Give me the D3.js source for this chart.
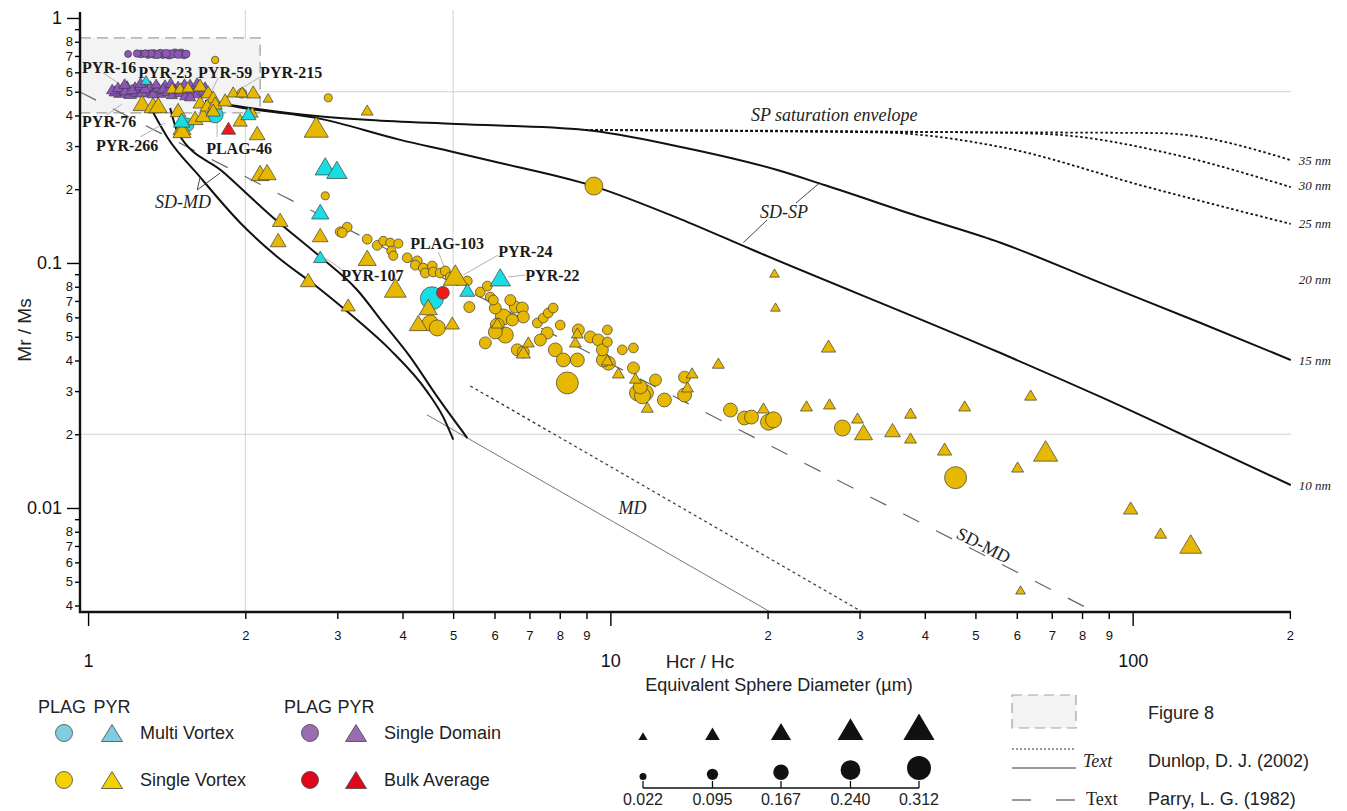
<!DOCTYPE html>
<html><head><meta charset="utf-8">
<script src="https://cdn.jsdelivr.net/npm/d3@7"></script>
<style>
body{margin:0;background:#fff;}
svg{display:block;font-family:"Liberation Sans",Arial,sans-serif;}
</style></head><body>
<svg id="chart" width="1347" height="811"></svg>
<script>
// ---------------- DATA: [Hcr/Hc, Mr/Ms, ESD (µm)] ----------------
const plagMV = [[1.546,0.366,0.14],[1.751,0.402,0.176],[4.554,0.0718,0.295]];
const pyrMV = [[1.291,0.558,0.04],[1.511,0.383,0.12],[2.028,0.408,0.10],[2.845,0.248,0.17],[2.995,0.240,0.17],
  [2.783,0.162,0.13],[2.783,0.106,0.08],[5.322,0.0776,0.10],[6.155,0.0874,0.17]];
const plagSV = [[1.751,0.674,0.03],[1.970,0.493,0.07],[2.883,0.472,0.04],[2.845,0.188,0.04],[9.30,0.206,0.21],
  [3.039,0.134,0.07],[3.134,0.140,0.07],[3.066,0.133,0.07],[3.423,0.125,0.07],[3.578,0.118,0.07],[3.674,0.123,0.06],
  [3.790,0.121,0.06],[3.926,0.120,0.06],[3.807,0.112,0.06],[3.840,0.107,0.06],[4.084,0.105,0.07],[4.269,0.102,0.07],
  [4.231,0.098,0.07],[4.383,0.0954,0.07],[4.560,0.0972,0.07],[4.421,0.0910,0.07],[4.580,0.0919,0.07],[4.723,0.0910,0.07],
  [4.830,0.0928,0.07],[4.937,0.0877,0.07],[5.092,0.0869,0.07],[5.322,0.0844,0.07],[5.369,0.0661,0.09],[4.520,0.0569,0.176],
  [4.662,0.0543,0.176],[5.636,0.0761,0.07],[5.813,0.0805,0.07],[5.890,0.0726,0.07],[5.969,0.0706,0.07],[6.021,0.0655,0.107],
  [6.237,0.0602,0.176],[6.433,0.0706,0.09],[6.577,0.0661,0.107],[6.784,0.0655,0.107],[6.814,0.0602,0.107],[6.490,0.0585,0.107],
  [6.074,0.0558,0.14],[6.293,0.0508,0.176],[6.021,0.0523,0.14],[5.762,0.0472,0.107],[6.634,0.0442,0.107],[6.814,0.0433,0.107],
  [7.247,0.0569,0.07],[7.440,0.0596,0.07],[7.604,0.0625,0.07],[7.774,0.0655,0.07],[8.017,0.0558,0.07],[7.570,0.0518,0.107],
  [7.343,0.0485,0.107],[7.843,0.0442,0.14],[8.128,0.0402,0.14],[8.646,0.0402,0.14],[8.272,0.0324,0.278],[8.684,0.0533,0.107],
  [9.156,0.0499,0.107],[9.485,0.0485,0.107],[9.869,0.0533,0.07],[9.869,0.0476,0.07],[9.654,0.0442,0.107],[9.913,0.0390,0.14],
  [9.696,0.0402,0.14],[10.54,0.0442,0.07],[11.07,0.0450,0.07],[11.07,0.0373,0.107],[11.41,0.0312,0.14],[11.27,0.0295,0.176],
  [11.67,0.0295,0.176],[11.52,0.0287,0.176],[12.20,0.0333,0.107],[12.69,0.0276,0.14],[13.87,0.0342,0.107],[13.87,0.0289,0.14],
  [16.98,0.0251,0.14],[18.06,0.0233,0.14],[18.63,0.0235,0.14],[20.08,0.0224,0.176],[20.53,0.0229,0.176],[27.82,0.0212,0.176],
  [45.81,0.0133,0.278]];
const pyrSV = [[1.269,0.450,0.14],[1.332,0.441,0.14],[1.362,0.441,0.14],[1.448,0.518,0.06],[1.500,0.518,0.06],[1.554,0.523,0.06],
  [1.639,0.533,0.09],[1.698,0.499,0.09],[1.736,0.476,0.09],[1.639,0.454,0.09],[1.690,0.441,0.09],[1.751,0.450,0.09],[1.830,0.463,0.09],
  [1.487,0.421,0.11],[1.603,0.391,0.11],[1.661,0.402,0.11],[1.736,0.421,0.09],[1.896,0.499,0.06],[1.972,0.499,0.06],[2.071,0.499,0.09],
  [2.212,0.472,0.035],[1.955,0.383,0.09],[2.062,0.413,0.06],[2.108,0.339,0.11],[1.513,0.359,0.14],[1.513,0.349,0.14],[2.135,0.233,0.14],
  [2.202,0.235,0.14],[2.734,0.359,0.22],[3.423,0.421,0.06],[2.332,0.150,0.11],[2.312,0.124,0.11],[2.783,0.130,0.11],[2.639,0.0852,0.11],
  [3.148,0.0674,0.09],[3.423,0.105,0.14],[3.874,0.0791,0.19],[5.047,0.0893,0.22],[4.480,0.0661,0.14],[4.288,0.0569,0.14],
  [4.981,0.0569,0.09],[6.074,0.0569,0.06],[6.966,0.0476,0.06],[6.814,0.0433,0.09],[8.646,0.0518,0.06],[8.570,0.0476,0.06],
  [9.869,0.0402,0.06],[10.36,0.0356,0.06],[11.17,0.0339,0.06],[11.77,0.0258,0.06],[14.34,0.0356,0.06],[14.05,0.0312,0.06],
  [16.10,0.0390,0.06],[19.64,0.0256,0.06],[20.62,0.0910,0.03],[20.71,0.0661,0.03],[26.16,0.0458,0.09],[23.74,0.0261,0.06],
  [26.28,0.0266,0.06],[29.73,0.0233,0.06],[30.53,0.0204,0.14],[34.69,0.0208,0.11],[37.56,0.0244,0.06],[37.56,0.0193,0.06],
  [43.64,0.0174,0.09],[47.68,0.0261,0.06],[63.77,0.0289,0.06],[60.22,0.0147,0.06],[68.14,0.0171,0.22],[99.13,0.0100,0.09],
  [113.1,0.0079,0.06],[129.2,0.00713,0.19],[61.0,0.00463,0.03]];
const plagSD = [[1.193,0.713,0.022],[1.241,0.716,0.03],[1.263,0.713,0.035],[1.286,0.716,0.03],[1.303,0.711,0.045],[1.320,0.716,0.035],
  [1.338,0.713,0.05],[1.356,0.709,0.04],[1.374,0.716,0.045],[1.392,0.711,0.05],[1.411,0.716,0.04],[1.429,0.709,0.055],[1.448,0.713,0.045],
  [1.468,0.718,0.05],[1.487,0.711,0.04],[1.507,0.716,0.055],[1.527,0.709,0.045],[1.541,0.713,0.035]];
const pyrSD = [[1.112,0.513,0.05],[1.126,0.504,0.06],[1.141,0.523,0.05],[1.152,0.499,0.07],[1.162,0.518,0.06],[1.177,0.508,0.05],
  [1.188,0.528,0.06],[1.204,0.494,0.07],[1.214,0.513,0.05],[1.230,0.523,0.06],[1.241,0.504,0.07],[1.258,0.533,0.05],[1.269,0.499,0.06],
  [1.286,0.518,0.05],[1.303,0.508,0.07],[1.315,0.528,0.06],[1.332,0.494,0.05],[1.344,0.513,0.06],[1.362,0.523,0.05],[1.374,0.499,0.07],
  [1.390,0.518,0.05],[1.404,0.533,0.06],[1.420,0.504,0.05],[1.436,0.523,0.06],[1.448,0.490,0.05],[1.468,0.513,0.06],[1.487,0.528,0.05],
  [1.500,0.499,0.05],[1.513,0.518,0.06],[1.534,0.485,0.05],[1.547,0.513,0.06],[1.568,0.538,0.05],[1.603,0.513,0.06],[1.618,0.494,0.05],
  [1.639,0.533,0.06],[1.661,0.508,0.05],[1.675,0.523,0.06],[1.698,0.499,0.05],[1.618,0.548,0.04],[1.568,0.480,0.05],[1.175,0.540,0.05],
  [1.260,0.545,0.05],[1.350,0.540,0.04],[1.440,0.545,0.05],[1.530,0.540,0.05]];
const plagBulk = [[4.78,0.0756,0.12]];
const pyrBulk = [[1.857,0.355,0.09]];

// reference curves [Hcr/Hc, Mr/Ms]
const sdmdCurveA = [[1.315,0.433],[1.417,0.327],[1.639,0.224],[1.955,0.146],[2.302,0.106],[2.746,0.0798],[3.276,0.0585],[3.790,0.0442],[4.462,0.0298],[4.787,0.0235],[5.003,0.0190]];
const sdmdCurveB = [[1.436,0.429],[1.487,0.339],[1.814,0.235],[2.262,0.153],[2.783,0.106],[3.276,0.0776],[3.674,0.0569],[4.140,0.0413],[4.664,0.0284],[5.323,0.0193]];
const sdsp15 = [[1.675,0.4585],[2.043,0.429],[2.734,0.398],[3.469,0.383],[5.070,0.369],[8.956,0.349],[13.65,0.2975],[20.80,0.240],[25.70,0.208],[39.26,0.154],[55.86,0.121],[86.85,0.0829],[135.0,0.0569],[200.8,0.0402]];
const sdsp10 = [[1.675,0.4585],[2.043,0.425],[2.734,0.391],[3.961,0.318],[5.003,0.284],[6.155,0.256],[9.277,0.206],[13.62,0.151],[18.55,0.114],[55.86,0.0429],[86.85,0.0284],[135.0,0.0184],[200.8,0.0124]];
const env35 = [[8.956,0.349],[30,0.343],[111.6,0.339],[200.8,0.263]];
const env30 = [[8.956,0.349],[55.86,0.340],[72.8,0.333],[116.7,0.281],[200.8,0.204]];
const env25 = [[8.956,0.349],[32.9,0.341],[55.86,0.2975],[106.8,0.204],[200.8,0.1443]];
const parrySDMD = [[0.965,0.499],[83.1,0.00384]];
const parryMD = [[4.456,0.0240],[20.25,0.003763]];
const dunlopMD = [[5.393,0.0315],[30.39,0.003763]];
const fig8Box = [0.965, 2.135, 0.4095, 0.829];

// annotations
const sampleLabels = [["PYR-16",0.974,0.631],["PYR-23",1.247,0.602],["PYR-59",1.624,0.602],["PYR-215",2.135,0.602],
  ["PYR-76",0.974,0.380],["PYR-266",1.036,0.303],["PLAG-46",1.683,0.2946],["PLAG-103",4.14,0.1207],
  ["PYR-24",6.10,0.1119],["PYR-107",3.053,0.0893],["PYR-22",6.874,0.0893]];
const sampleLeaders = [[1.766,0.327,1.766,0.394],[4.683,0.111,4.83,0.0937],[6.10,0.1078,5.228,0.0893],[3.066,0.0937,2.845,0.1048],
  [6.874,0.0893,6.376,0.0877],[1.774,0.569,1.728,0.508],[2.135,0.574,1.972,0.518],[1.068,0.597,1.141,0.543],
  [1.087,0.402,1.162,0.446],[1.258,0.327,1.404,0.373]];
const curveLabels = [["SP saturation envelope",26.83,0.4018],["SD-SP",21.5,0.162],["SD-MD",1.52,0.1774],["MD",11.02,0.0100]];
const curveLeaders = [[1.618,0.1986,1.639,0.2244],[1.618,0.1986,1.79,0.233],[25.14,0.212,22.67,0.1757],[17.97,0.121,19.96,0.1498]];
const nmLabels = [["35 nm",0.2609],["30 nm",0.2082],["25 nm",0.1455],["20 nm",0.0860],["15 nm",0.0402],["10 nm",0.01241]];
const parryLabel = ["SD-MD",51.85,0.00706];

// axes ticks
const xMajorTicks = [1,10,100], xMajorLabels = ["1","10","100"];
const xMinorTicks = [2,3,4,5,6,7,8,9,20,30,40,50,60,70,80,90,200];
const xMinorLabels = ["2","3","4","5","6","7","8","9","2","3","4","5","6","7","8","9","2"];
const yMajorTicks = [1,0.1,0.01], yMajorLabels = ["1","0.1","0.01"];
const yMinorTicks = [0.9,0.8,0.7,0.6,0.5,0.4,0.3,0.2,0.09,0.08,0.07,0.06,0.05,0.04,0.03,0.02,0.009,0.008,0.007,0.006,0.005,0.004];
const yMinorLabels = ["","8","7","6","5","4","3","2","","8","7","6","5","4","3","2","","8","7","6","5","4"];
const xGrid = [2,5], yGrid = [0.5,0.02];
const sizeKey = [0.022,0.095,0.167,0.240,0.312], sizeKeyLabels = ["0.022","0.095","0.167","0.240","0.312"];

// ---------------- DRAW ----------------
const svg = d3.select("#chart");
const x = d3.scaleLog().domain([0.965, 201]).range([80, 1291]);
const y = d3.scaleLog().domain([0.003763, 1.038]).range([612, 14]);
const rS = d3.scaleLinear().domain([0.022, 0.312]).range([3.5, 12]);
const COL = {mv:"#19dde3", sv:"#e6b800", sd:"#8c56bb", bulk:"#ee1b1b"};
const LCOL = {mv:"#80cde0", sv:"#f4d000", sd:"#9a6db3", bulk:"#e2061c"};
const SERIF = '"Liberation Serif","Times New Roman",serif';
const triPath = (w,h)=>`M0,${-h/2}L${w/2},${h/2}L${-w/2},${h/2}Z`;

svg.append("defs").append("clipPath").attr("id","plotclip").append("rect")
  .attr("x",80).attr("y",14).attr("width",1211).attr("height",598);

// grid
const gGrid = svg.append("g").attr("stroke","#d2d2d2").attr("stroke-width",1);
xGrid.forEach(v=>gGrid.append("line").attr("x1",x(v)).attr("x2",x(v)).attr("y1",y.range()[1]-4).attr("y2",y.range()[0]));
yGrid.forEach(v=>gGrid.append("line").attr("x1",x.range()[0]).attr("x2",x.range()[1]).attr("y1",y(v)).attr("y2",y(v)));

// figure 8 box
svg.append("rect").attr("x",x(fig8Box[0])).attr("y",y(fig8Box[3]))
  .attr("width",x(fig8Box[1])-x(fig8Box[0])).attr("height",y(fig8Box[2])-y(fig8Box[3]))
  .attr("fill","#f3f3f3").attr("stroke","#a0a0a0").attr("stroke-width",1.3).attr("stroke-dasharray","11,6");

const gl = svg.append("g").attr("clip-path","url(#plotclip)").attr("fill","none");
const line = d3.line().x(d=>x(d[0])).y(d=>y(d[1]));
const cline = d3.line().x(d=>x(d[0])).y(d=>y(d[1])).curve(d3.curveMonotoneX);
gl.append("path").attr("d",line(parrySDMD)).attr("stroke","#666").attr("stroke-width",1.2).attr("stroke-dasharray","18,19");
gl.append("path").attr("d",line(parryMD)).attr("stroke","#777").attr("stroke-width",1);
gl.append("path").attr("d",line(dunlopMD)).attr("stroke","#333").attr("stroke-width",1.2).attr("stroke-dasharray","3,3");
[env35,env30,env25].forEach(c=>gl.append("path").attr("d",cline(c)).attr("stroke","#111").attr("stroke-width",1.8).attr("stroke-dasharray","2.5,2.5"));
[sdsp15,sdsp10,sdmdCurveA,sdmdCurveB].forEach(c=>gl.append("path").attr("d",cline(c)).attr("stroke","#111").attr("stroke-width",2));

// leaders
const gLead = svg.append("g");
sampleLeaders.forEach(d=>gLead.append("line").attr("x1",x(d[0])).attr("y1",y(d[1])).attr("x2",x(d[2])).attr("y2",y(d[3])).attr("stroke","#aaa").attr("stroke-width",0.9));
curveLeaders.forEach(d=>gLead.append("line").attr("x1",x(d[0])).attr("y1",y(d[1])).attr("x2",x(d[2])).attr("y2",y(d[3])).attr("stroke","#333").attr("stroke-width",0.9));

// points
const gp = svg.append("g");
function circles(data, fill){
  gp.append("g").selectAll("circle").data(data.slice().sort((a,b)=>b[2]-a[2])).join("circle")
    .attr("cx",d=>x(d[0])).attr("cy",d=>y(d[1])).attr("r",d=>rS(d[2]))
    .attr("fill",fill).attr("stroke","#3c3c3c").attr("stroke-width",0.7);
}
function tris(data, fill){
  gp.append("g").selectAll("path").data(data.slice().sort((a,b)=>b[2]-a[2])).join("path")
    .attr("transform",d=>`translate(${x(d[0])},${y(d[1])})`)
    .attr("d",d=>triPath(2.6*rS(d[2]),2.2*rS(d[2])))
    .attr("fill",fill).attr("stroke","#3c3c3c").attr("stroke-width",0.7);
}
circles(plagMV, COL.mv);
tris(pyrSD, COL.sd);
circles(plagSD, COL.sd);
circles(plagSV, COL.sv);
tris(pyrSV, COL.sv);
tris(pyrMV, COL.mv);
circles(plagBulk, COL.bulk);
tris(pyrBulk, COL.bulk);

// labels
const gt = svg.append("g");
sampleLabels.forEach(d=>gt.append("text").attr("x",x(d[1])).attr("y",y(d[2])).attr("dy","0.35em")
  .attr("font-family",SERIF).attr("font-weight","bold").attr("font-size",16).attr("fill","#1a1a1a").text(d[0]));
curveLabels.forEach(d=>gt.append("text").attr("x",x(d[1])).attr("y",y(d[2])).attr("dy","0.35em").attr("text-anchor","middle")
  .attr("font-family",SERIF).attr("font-style","italic").attr("font-size",18).attr("fill","#222").text(d[0]));
nmLabels.forEach(d=>gt.append("text").attr("x",x(208)).attr("y",y(d[1])).attr("dy","0.35em")
  .attr("font-family",SERIF).attr("font-style","italic").attr("font-size",13).attr("fill","#222").text(d[0]));
{
  const ang = Math.atan2(y(parrySDMD[1][1])-y(parrySDMD[0][1]), x(parrySDMD[1][0])-x(parrySDMD[0][0]))*180/Math.PI;
  const px = x(parryLabel[1]), py = y(parryLabel[2]);
  gt.append("text").attr("transform",`translate(${px},${py}) rotate(${ang})`).attr("text-anchor","middle").attr("dy","0.35em")
    .attr("font-family",SERIF).attr("font-size",18).attr("fill","#222").text(parryLabel[0]);
}

// axes
function styleAxis(g, fs){ g.attr("font-size",fs).attr("font-family",'"Liberation Sans",Arial,sans-serif');
  g.selectAll(".tick line").attr("stroke-width",1.4); g.selectAll("text").attr("fill","#111"); g.select(".domain").remove(); }
const gxm = svg.append("g").attr("transform","translate(0,612)")
  .call(d3.axisBottom(x).tickValues(xMinorTicks).tickFormat((d,i)=>xMinorLabels[i]).tickSize(7).tickPadding(12));
styleAxis(gxm, 13);
const gxM = svg.append("g").attr("transform","translate(0,612)")
  .call(d3.axisBottom(x).tickValues(xMajorTicks).tickFormat((d,i)=>xMajorLabels[i]).tickSize(14).tickPadding(28));
styleAxis(gxM, 18);
const gym = svg.append("g").attr("transform","translate(80,0)")
  .call(d3.axisLeft(y).tickValues(yMinorTicks).tickFormat((d,i)=>yMinorLabels[i]).tickSize(5).tickPadding(2));
styleAxis(gym, 13);
const gyM = svg.append("g").attr("transform","translate(80,0)")
  .call(d3.axisLeft(y).tickValues(yMajorTicks).tickFormat((d,i)=>yMajorLabels[i]).tickSize(13).tickPadding(5));
styleAxis(gyM, 18);
svg.append("path").attr("d",`M80,${y.range()[1]-2}V612H${x.range()[1]}`).attr("fill","none").attr("stroke","#111").attr("stroke-width",2.4);
svg.append("text").attr("x",700).attr("y",668).attr("text-anchor","middle").attr("font-size",19).attr("fill","#222").text("Hcr / Hc");
svg.append("text").attr("transform","translate(31,330) rotate(-90)").attr("text-anchor","middle").attr("font-size",19).attr("fill","#222").text("Mr / Ms");

// ---------------- LEGENDS ----------------
const lg = svg.append("g").attr("font-size",18).attr("fill","#222");
[[62,112,["Multi Vortex","Single Vortex"],["mv","sv"]],[308,356,["Single Domain","Bulk Average"],["sd","bulk"]]].forEach(([cx,tx,names,keys])=>{
  lg.append("text").attr("x",cx).attr("y",713).attr("text-anchor","middle").text("PLAG");
  lg.append("text").attr("x",tx).attr("y",713).attr("text-anchor","middle").text("PYR");
  [733,780].forEach((yy,i)=>{
    lg.append("circle").attr("cx",cx+2).attr("cy",yy).attr("r",8.5).attr("fill",LCOL[keys[i]]).attr("stroke","#444").attr("stroke-width",0.8);
    lg.append("path").attr("transform",`translate(${tx},${yy})`).attr("d",triPath(21,17)).attr("fill",LCOL[keys[i]]).attr("stroke","#444").attr("stroke-width",0.8);
    lg.append("text").attr("x",tx+28).attr("y",yy+6).text(names[i]);
  });
});

// size key
const kx = d3.scaleLinear().domain([0.022,0.312]).range([643,919]);
lg.append("text").attr("x",779).attr("y",691).attr("text-anchor","middle").text("Equivalent Sphere Diameter (µm)");
sizeKey.forEach((v,i)=>{
  const rr = rS(v);
  lg.append("path").attr("transform",`translate(${kx(v)},${740-1.1*rr})`).attr("d",triPath(2.6*rr,2.2*rr)).attr("fill","#111");
  lg.append("circle").attr("cx",kx(v)).attr("cy",780-rr).attr("r",rr).attr("fill","#111");
  lg.append("line").attr("x1",kx(v)).attr("x2",kx(v)).attr("y1",781).attr("y2",788).attr("stroke","#111").attr("stroke-width",1.3);
  lg.append("text").attr("x",kx(v)).attr("y",805).attr("text-anchor","middle").attr("font-size",16).text(sizeKeyLabels[i]);
});
lg.append("line").attr("x1",kx.range()[0]).attr("x2",kx.range()[1]).attr("y1",788).attr("y2",788).attr("stroke","#111").attr("stroke-width",1.5);

// source key
lg.append("rect").attr("x",1012).attr("y",695).attr("width",64).attr("height",33).attr("fill","#f3f3f3").attr("stroke","#a0a0a0").attr("stroke-width",1.2).attr("stroke-dasharray","10,6");
lg.append("text").attr("x",1148).attr("y",719).text("Figure 8");
lg.append("line").attr("x1",1012).attr("x2",1076).attr("y1",749).attr("y2",749).attr("stroke","#333").attr("stroke-dasharray","2,2");
lg.append("line").attr("x1",1012).attr("x2",1076).attr("y1",768).attr("y2",768).attr("stroke","#333");
lg.append("text").attr("x",1083).attr("y",767).attr("font-family",SERIF).attr("font-style","italic").attr("font-size",18).text("Text");
lg.append("text").attr("x",1148).attr("y",767).text("Dunlop, D. J. (2002)");
lg.append("line").attr("x1",1012).attr("x2",1076).attr("y1",800).attr("y2",800).attr("stroke","#333").attr("stroke-dasharray","19,25");
lg.append("text").attr("x",1086).attr("y",805).attr("font-family",SERIF).attr("font-size",18).text("Text");
lg.append("text").attr("x",1148).attr("y",805).text("Parry, L. G. (1982)");
</script>
</body></html>
